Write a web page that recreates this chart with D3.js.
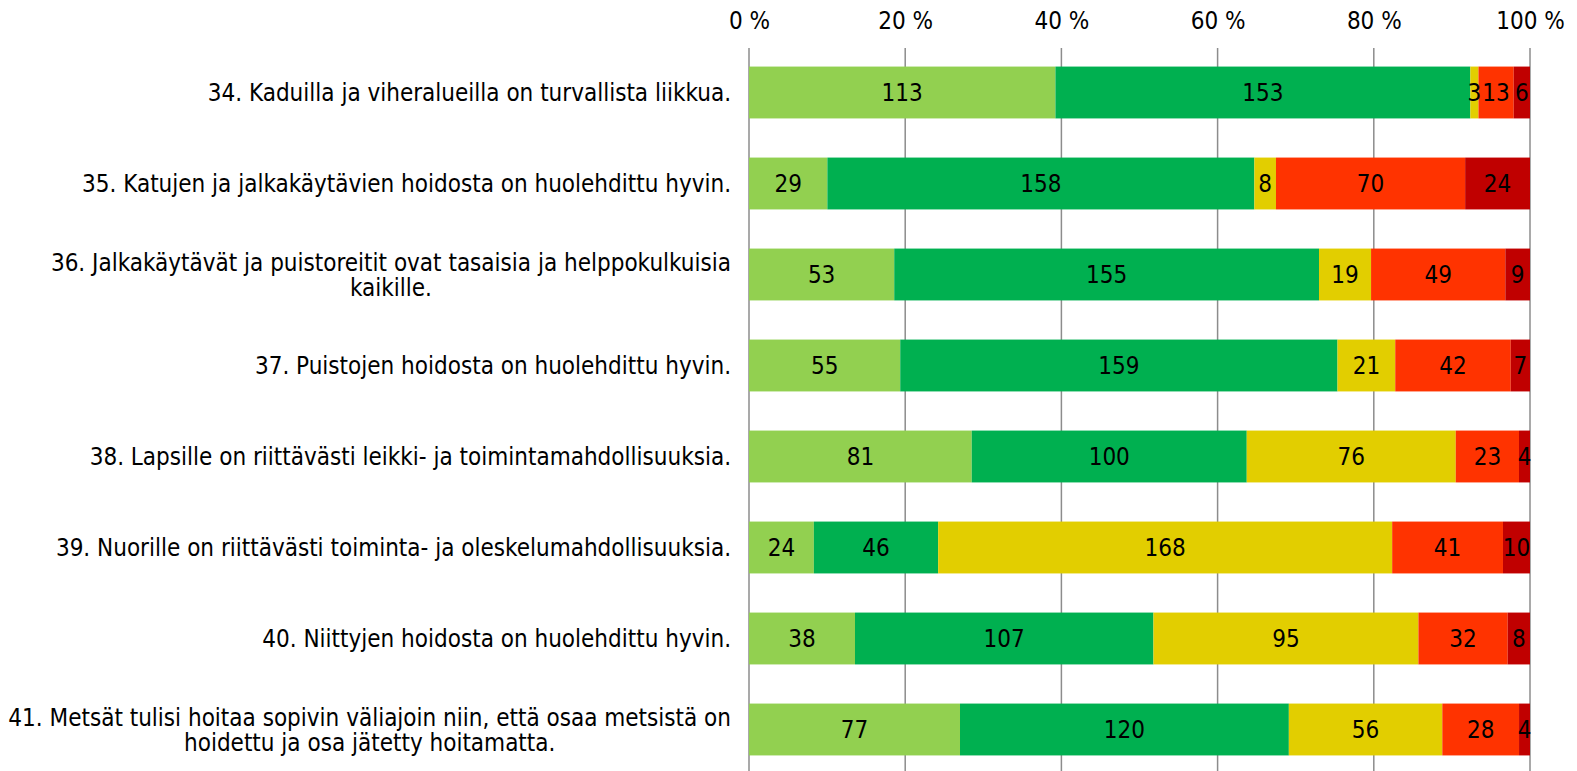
<!DOCTYPE html>
<html>
<head>
<meta charset="utf-8">
<script src="https://cdn.jsdelivr.net/npm/d3@7"></script>
<style>
  html, body { margin: 0; padding: 0; background: #fff; }
  svg { display: block; }
  text { font-family: "DejaVu Sans Condensed", "DejaVu Sans", Verdana, sans-serif; fill: #000; }
</style>
</head>
<body>
<svg id="chart" width="1577" height="771"></svg>
<script>
// Statements (a "\n" marks where a long label wraps)
const categories = [
  "34. Kaduilla ja viheralueilla on turvallista liikkua.",
  "35. Katujen ja jalkakäytävien hoidosta on huolehdittu hyvin.",
  "36. Jalkakäytävät ja puistoreitit ovat tasaisia ja helppokulkuisia\nkaikille.",
  "37. Puistojen hoidosta on huolehdittu hyvin.",
  "38. Lapsille on riittävästi leikki- ja toimintamahdollisuuksia.",
  "39. Nuorille on riittävästi toiminta- ja oleskelumahdollisuuksia.",
  "40. Niittyjen hoidosta on huolehdittu hyvin.",
  "41. Metsät tulisi hoitaa sopivin väliajoin niin, että osaa metsistä on\nhoidettu ja osa jätetty hoitamatta."
];

// Answer counts per statement, one array per answer option
const fullyAgree    = [113, 29, 53, 55, 81, 24, 38, 77];
const somewhatAgree = [153, 158, 155, 159, 100, 46, 107, 120];
const neutral       = [3, 8, 19, 21, 76, 168, 95, 56];
const somewhatDis   = [13, 70, 49, 42, 23, 41, 32, 28];
const fullyDis      = [6, 24, 9, 7, 4, 10, 8, 4];

const seriesColors = ["#92D050", "#00B050", "#E2CE00", "#FF3300", "#C00000"];
const tickValues = [0, 0.2, 0.4, 0.6, 0.8, 1.0];

const series = [fullyAgree, somewhatAgree, neutral, somewhatDis, fullyDis];

const svg = d3.select("#chart");
const plotLeft = 749, plotRight = 1530, plotTop = 47, plotBottom = 775;

const x = d3.scaleLinear().domain([0, 1]).range([plotLeft, plotRight]);
const y = d3.scaleBand().domain(d3.range(categories.length)).range([plotTop, plotBottom]).paddingInner(0.43).paddingOuter(0.215);

// Vertical gridlines
svg.append("g").selectAll("line").data(tickValues).join("line")
  .attr("x1", d => x(d)).attr("x2", d => x(d))
  .attr("y1", 48).attr("y2", 771)
  .attr("stroke", "#8c8c8c").attr("stroke-width", 1.5);

// Top axis labels
const axis = d3.axisTop(x).tickValues(tickValues).tickSize(0).tickPadding(0)
  .tickFormat(d => Math.round(d * 100) + " %");
const ax = svg.append("g").attr("transform", "translate(0,29)").call(axis);
ax.select(".domain").remove();
ax.selectAll("text").attr("font-size", 24).attr("font-family", null).attr("fill", "#000");

// Stacked rows, normalised to 100 %
const rows = categories.map((c, i) => {
  const vals = series.map(s => s[i]);
  const total = d3.sum(vals);
  let acc = 0;
  return vals.map((v, k) => {
    const seg = { row: i, k, v, x0: acc / total, x1: (acc + v) / total };
    acc += v;
    return seg;
  });
});

const gRows = svg.append("g").selectAll("g").data(rows).join("g");
gRows.selectAll("rect").data(d => d).join("rect")
  .attr("x", d => x(d.x0))
  .attr("width", d => x(d.x1) - x(d.x0))
  .attr("y", d => y(d.row))
  .attr("height", y.bandwidth())
  .attr("fill", d => seriesColors[d.k]);

gRows.selectAll("text").data(d => d).join("text")
  .attr("x", d => (x(d.x0) + x(d.x1)) / 2)
  .attr("y", d => y(d.row) + y.bandwidth() / 2)
  .attr("dy", "0.36em")
  .attr("text-anchor", "middle")
  .attr("font-size", 24)
  .text(d => d.v);

// Category labels: right-aligned block, wrapped lines centred within it
const labelRight = 731;
const lineH = 25;
categories.forEach((c, i) => {
  const lines = c.split("\n");
  const cy = y(i) + y.bandwidth() / 2;
  const g = svg.append("g");
  const texts = lines.map((l, j) => g.append("text")
    .attr("font-size", 24)
    .attr("y", cy + (j - (lines.length - 1) / 2) * lineH)
    .attr("dy", "0.36em")
    .text(l));
  const w = d3.max(texts, t => t.node().getComputedTextLength());
  texts.forEach(t => t.attr("text-anchor", "middle").attr("x", labelRight - w / 2));
});
</script>
</body>
</html>
